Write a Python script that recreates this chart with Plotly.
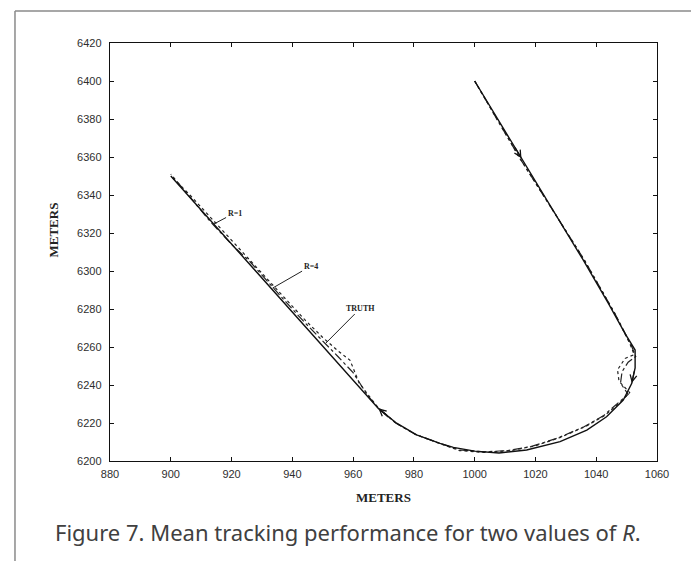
import plotly.graph_objects as go

# True target path (metres)
truth_x = [1000, 1015.4, 1035.7, 1044, 1049.5, 1052.8, 1052.8, 1051.7, 1048.9, 1043.4, 1036.9,
           1028.1, 1017.1, 1008, 1000, 993, 988.6, 980.9, 974.3, 968.3, 900]
truth_y = [6400, 6359.3, 6305.8, 6283, 6267, 6258.4, 6249, 6240.9, 6232.1, 6223.3, 6216.3,
           6210.2, 6205.8, 6204.2, 6205.2, 6207.2, 6209.3, 6213.7, 6219.9, 6227.7, 6350]

# Mean tracker estimate, R = 4
r4_x = [1000, 1015, 1036, 1046, 1051, 1052.5, 1049.5, 1047, 1047.5, 1050, 1051, 1048, 1043,
        1036.5, 1028, 1020, 1012, 1003, 995, 988, 980.5, 974, 968, 962, 959, 955, 950, 944,
        938, 932, 926, 920, 913, 906, 900]
r4_y = [6400, 6359, 6306, 6278, 6262, 6256, 6254, 6248, 6242, 6238, 6236, 6231, 6224.2,
        6218.2, 6212.3, 6208, 6205.5, 6204.5, 6205.5, 6209.5, 6214, 6220, 6228.5, 6241, 6253, 6258,
        6265, 6274.5, 6285, 6295, 6305.5, 6316.5, 6328.5, 6340.5, 6350]

# Mean tracker estimate, R = 1
r1_x = [1000, 1015, 1036, 1046, 1051.5, 1053, 1050.5, 1048.5, 1048, 1049.5, 1050.5, 1047.5,
        1042.5, 1036, 1027.5, 1019, 1011, 1003, 995, 988, 980.5, 974, 968, 965, 960, 955, 950,
        944, 938, 932, 926, 920, 913, 906, 900]
r1_y = [6400, 6359, 6306, 6278, 6261, 6255, 6252, 6247, 6241, 6237, 6235, 6231,
        6224, 6218, 6212.2, 6207.8, 6205.5, 6204.8, 6205.8, 6209.6, 6214, 6220, 6228.5,
        6234, 6246.5, 6255, 6263, 6273, 6283.5, 6294.5, 6305, 6314, 6326, 6339.5, 6351]

x_ticks = list(range(880, 1061, 20))
y_ticks = list(range(6200, 6421, 20))

# Direction arrows along the true path: (head x, head y, tail x, tail y)
direction_arrows = [
    (1015.4, 6359.3, 1013.0, 6365.8),
    (1051.7, 6241.0, 1052.6, 6248.0),
    (968.3, 6227.7, 972.0, 6222.5),
]

# Curve labels: (text, label x, label y, leader end x, leader end y)
curve_labels = [
    ("R=1", 921.0, 6330.5, 913.9, 6324.5),
    ("R=4", 946.0, 6302.5, 933.5, 6291.0),
    ("TRUTH", 962.5, 6280.5, 951.0, 6262.0),
]

fig = go.Figure()
fig.add_trace(go.Scatter(x=r1_x, y=r1_y, mode="lines",
                         line=dict(color="#222", width=1.2, dash="dashdot")))
fig.add_trace(go.Scatter(x=r4_x, y=r4_y, mode="lines",
                         line=dict(color="#222", width=1.2, dash="dot")))
fig.add_trace(go.Scatter(x=truth_x, y=truth_y, mode="lines",
                         line=dict(color="#111", width=1.4)))

for hx, hy, tx, ty in direction_arrows:
    fig.add_annotation(x=hx, y=hy, ax=tx, ay=ty, xref="x", yref="y", axref="x", ayref="y",
                       text="", showarrow=True, arrowhead=5, arrowsize=1.1,
                       arrowwidth=1.2, arrowcolor="#111", standoff=0)

for txt, lx, ly, px, py in curve_labels:
    fig.add_annotation(x=px, y=py, ax=lx, ay=ly, xref="x", yref="y", axref="x", ayref="y",
                       text="<b>" + txt + "</b>", showarrow=True, arrowhead=0,
                       arrowwidth=1, arrowcolor="#222", standoff=0,
                       font=dict(family="Liberation Serif", size=8, color="#222"))

# Axis titles
fig.add_annotation(text="<b>METERS</b>", xref="paper", yref="paper", x=0.5, y=-0.0885,
                   xanchor="center", yanchor="middle", showarrow=False,
                   font=dict(family="Liberation Serif", size=13, color="#222"))
fig.add_annotation(text="<b>METERS</b>", xref="paper", yref="paper", x=-0.103, y=0.553,
                   xanchor="center", yanchor="middle", textangle=-90, showarrow=False,
                   font=dict(family="Liberation Serif", size=13, color="#222"))

# Caption
fig.add_annotation(text="Figure 7. Mean tracking performance for two values of <i>R</i>.",
                   xref="paper", yref="paper", x=-0.104, y=-0.17, xanchor="left",
                   yanchor="middle", showarrow=False,
                   font=dict(family="Noto Sans", size=22, color="#404040"))

# Page frame lines
fig.add_shape(type="line", xref="paper", yref="paper", x0=-0.1737, x1=1.1, y0=1.0765, y1=1.0765,
              line=dict(color="#8a8a8a", width=1.5))
fig.add_shape(type="line", xref="paper", yref="paper", x0=-0.1737, x1=-0.1737, y0=-0.25, y1=1.0765,
              line=dict(color="#8a8a8a", width=1.5))

axis_common = dict(showgrid=False, zeroline=False, showline=True, linecolor="#111", linewidth=1.4,
                   mirror="ticks", ticks="inside", ticklen=4, tickwidth=1.2, tickcolor="#111",
                   tickfont=dict(family="Liberation Sans", size=11, color="#2e2e2e"))

fig.update_xaxes(range=[880, 1060], tickvals=x_ticks, ticktext=[str(v) for v in x_ticks],
                 ticklabelstandoff=3, **axis_common)
fig.update_yaxes(range=[6200, 6420], tickvals=y_ticks, ticktext=[str(v) for v in y_ticks],
                 ticklabelstandoff=5, **axis_common)

fig.update_layout(width=691, height=561, margin=dict(l=110, r=34, t=43, b=100),
                  paper_bgcolor="white", plot_bgcolor="white", showlegend=False)

fig.write_html("out.html")
